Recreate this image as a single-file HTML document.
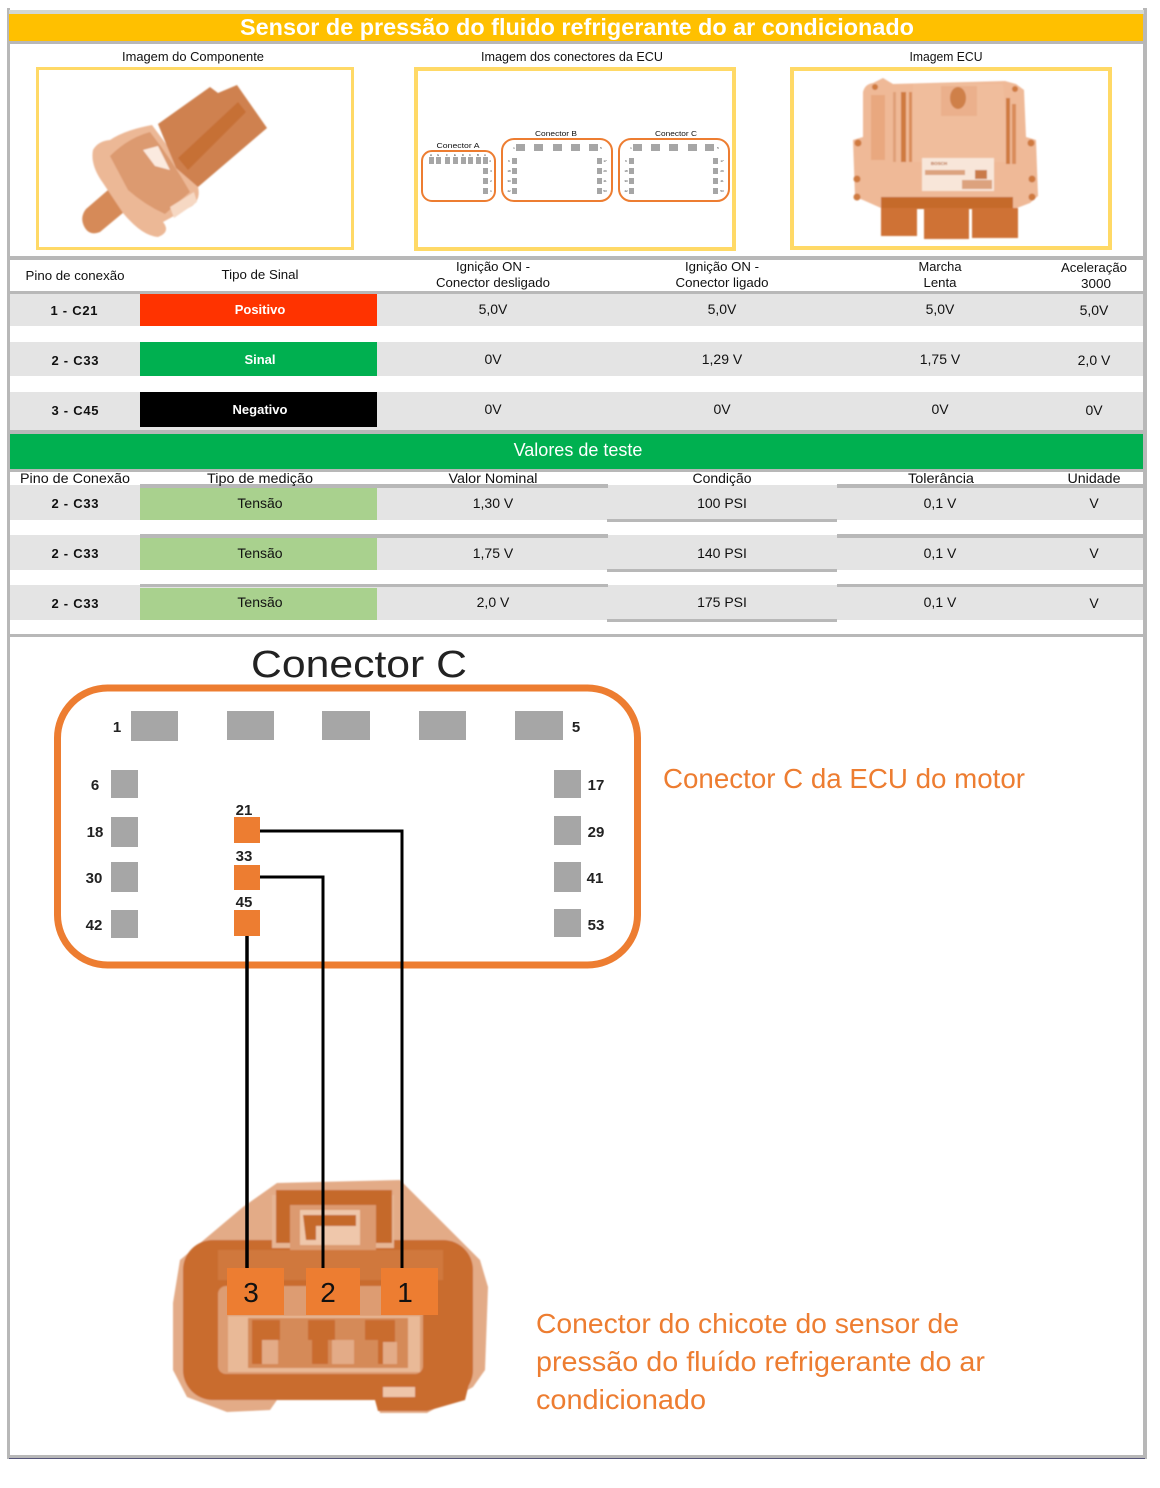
<!DOCTYPE html>
<html lang="pt">
<head>
<meta charset="utf-8">
<title>Sensor de pressão do fluido refrigerante do ar condicionado</title>
<style>
html,body{margin:0;padding:0;background:#fff;width:1160px;height:1488px;overflow:hidden}
svg{display:block}
text{font-family:"Liberation Sans",sans-serif;fill:#111}
.m{text-anchor:middle;font-size:12.5px}
.b{font-weight:bold;font-size:13px;text-anchor:middle}
.h{text-anchor:middle;font-size:14px}
.n{font-weight:bold;font-size:15px;text-anchor:middle;fill:#222}
.o{font-size:28px;fill:#ed7d31}
.t{font-size:3px;text-anchor:middle;fill:#333}
.g{fill:#a6a6a6}
.y{fill:none;stroke:#ffd966}
.pk{fill:none;stroke:#ed7d31;stroke-width:2}
</style>
</head>
<body>
<svg width="1160" height="1488" viewBox="0 0 1160 1488" xmlns="http://www.w3.org/2000/svg">
<defs>
<filter id="s"><feGaussianBlur stdDeviation="0.8"/></filter>
</defs>

<!-- frame -->
<rect x="7" y="8" width="3" height="1451" fill="#b8b8b8"/>
<rect x="1143" y="8" width="4" height="1451" fill="#b8b8b8"/>
<rect x="9" y="10" width="1135" height="4" fill="#d3d8d3"/>
<rect x="9" y="14" width="1134" height="27" fill="#ffc000"/>
<rect x="9" y="41" width="1135" height="3" fill="#b8b8b8"/>
<text x="577" y="35" text-anchor="middle" style="font-size:23px;font-weight:bold;fill:#fff" textLength="674" lengthAdjust="spacingAndGlyphs">Sensor de pressão do fluido refrigerante do ar condicionado</text>

<!-- captions -->
<text class="m" x="193" y="61" textLength="142" lengthAdjust="spacingAndGlyphs">Imagem do Componente</text>
<text class="m" x="572" y="61" textLength="182" lengthAdjust="spacingAndGlyphs">Imagem dos conectores da ECU</text>
<text class="m" x="946" y="61" textLength="73" lengthAdjust="spacingAndGlyphs">Imagem ECU</text>

<rect class="y" x="37.5" y="68.5" width="315" height="180" stroke-width="3"/>
<rect class="y" x="416" y="69" width="318" height="180" stroke-width="4"/>
<rect class="y" x="792" y="69" width="318" height="179" stroke-width="4"/>

<!-- sensor -->
<g filter="url(#s)">
<path d="M108 190L124 212 100 232Q90 236 85 228Q79 218 86 209Z" fill="#d68a58"/>
<path d="M93 150Q98 141 110 140Q125 130 152 125L198 187Q201 199 192 206L163 222Q171 232 158 237Q142 236 123 213L103 183Q90 165 93 150Z" fill="#ecb896"/>
<path d="M110 156Q128 138 150 132Q172 160 190 192L165 214Q145 205 128 190Z" fill="#dc9a70"/>
<path d="M143 150L155 166 170 170 158 146Z" fill="#fbeadf"/>
<path d="M170 207L194 192 197 202 174 218Z" fill="#f6d8c3"/>
<path d="M158 124L210 87 218 93 237 85 267 128 198 187 176 168Z" fill="#cf8150"/>
<path d="M178 158L238 102 246 112 188 170Z" fill="#c66f36"/>
</g>

<!-- thumbnail connectors -->
<rect class="pk" x="422" y="151" width="73" height="50" rx="10"/>
<rect class="pk" x="502" y="139" width="110" height="62" rx="12"/>
<rect class="pk" x="619" y="139" width="110" height="62" rx="12"/>
<text x="458" y="148" text-anchor="middle" style="font-size:7.5px" textLength="43" lengthAdjust="spacingAndGlyphs">Conector A</text>
<text x="556" y="136" text-anchor="middle" style="font-size:7.5px" textLength="42" lengthAdjust="spacingAndGlyphs">Conector B</text>
<text x="676" y="136" text-anchor="middle" style="font-size:7.5px" textLength="42" lengthAdjust="spacingAndGlyphs">Conector C</text>
<g class="g">
<rect x="429" y="157" width="5" height="7"/><rect x="436" y="157" width="5" height="7"/><rect x="445" y="157" width="5" height="7"/><rect x="453" y="157" width="5" height="7"/><rect x="461" y="157" width="5" height="7"/><rect x="468" y="157" width="5" height="7"/><rect x="476" y="157" width="5" height="7"/><rect x="483" y="157" width="5" height="7"/>
<rect x="483" y="168" width="5" height="6"/><rect x="483" y="178" width="5" height="6"/><rect x="483" y="188" width="5" height="6"/>
<rect x="516" y="144" width="9" height="7"/><rect x="534" y="144" width="9" height="7"/><rect x="553" y="144" width="9" height="7"/><rect x="571" y="144" width="9" height="7"/><rect x="589" y="144" width="9" height="7"/>
<rect x="512" y="158" width="5" height="6"/><rect x="512" y="168" width="5" height="6"/><rect x="512" y="178" width="5" height="6"/><rect x="512" y="188" width="5" height="6"/>
<rect x="597" y="158" width="5" height="6"/><rect x="597" y="168" width="5" height="6"/><rect x="597" y="178" width="5" height="6"/><rect x="597" y="188" width="5" height="6"/>
<rect x="633" y="144" width="9" height="7"/><rect x="651" y="144" width="9" height="7"/><rect x="669" y="144" width="9" height="7"/><rect x="688" y="144" width="9" height="7"/><rect x="705" y="144" width="9" height="7"/>
<rect x="629" y="158" width="5" height="6"/><rect x="629" y="168" width="5" height="6"/><rect x="629" y="178" width="5" height="6"/><rect x="629" y="188" width="5" height="6"/>
<rect x="713" y="158" width="5" height="6"/><rect x="713" y="168" width="5" height="6"/><rect x="713" y="178" width="5" height="6"/><rect x="713" y="188" width="5" height="6"/>
</g>
<g>
<text class="t" x="431" y="156">H</text><text class="t" x="438" y="156">G</text><text class="t" x="447" y="156">F</text><text class="t" x="455" y="156">E</text><text class="t" x="463" y="156">D</text><text class="t" x="470" y="156">C</text><text class="t" x="478" y="156">B</text><text class="t" x="485" y="156">A</text>
<text class="t" x="490" y="162">4</text><text class="t" x="491" y="172">3</text><text class="t" x="491" y="182">2</text><text class="t" x="491" y="192">1</text>
<text class="t" x="514" y="149">1</text><text class="t" x="601" y="149">5</text>
<text class="t" x="509" y="162">6</text><text class="t" x="509" y="172">18</text><text class="t" x="509" y="182">30</text><text class="t" x="509" y="192">42</text>
<text class="t" x="605" y="162">17</text><text class="t" x="605" y="172">29</text><text class="t" x="605" y="182">41</text><text class="t" x="605" y="192">53</text>
<text class="t" x="631" y="149">1</text><text class="t" x="718" y="149">5</text>
<text class="t" x="626" y="162">6</text><text class="t" x="626" y="172">18</text><text class="t" x="626" y="182">30</text><text class="t" x="626" y="192">42</text>
<text class="t" x="722" y="162">17</text><text class="t" x="722" y="172">29</text><text class="t" x="722" y="182">41</text><text class="t" x="722" y="192">53</text>
</g>

<!-- ECU -->
<g filter="url(#s)">
<path d="M863 92Q865 84 873 83L883 78 893 84 1005 81 1016 84 1024 90 1026 137 1036 140 1038 196 1030 203 1017 208 881 208 863 200 855 197 853 140 863 137Z" fill="#efb997"/>
<path d="M913 84H1003L1008 148 1010 162H913Z" fill="#f0bd9c"/>
<circle cx="858" cy="143" r="3.5" fill="#cf7a40"/><circle cx="857" cy="179" r="3.5" fill="#cf7a40"/><circle cx="857" cy="197" r="3.5" fill="#cf7a40"/>
<circle cx="1031" cy="143" r="3.5" fill="#cf7a40"/><circle cx="1032" cy="179" r="3.5" fill="#cf7a40"/><circle cx="1032" cy="197" r="3.5" fill="#cf7a40"/>
<circle cx="875" cy="87" r="3" fill="#cf7a40"/><circle cx="1015" cy="89" r="3" fill="#cf7a40"/>
<rect x="871" y="95" width="14" height="65" fill="#e9a87f"/>
<rect x="893" y="92" width="3" height="70" fill="#e0a078"/><rect x="901" y="92" width="5" height="70" fill="#cf7a40"/><rect x="909" y="92" width="3" height="70" fill="#d98c5a"/>
<rect x="1006" y="98" width="4" height="66" fill="#cf7a40"/><rect x="1012" y="104" width="4" height="60" fill="#d98c5a"/>
<rect x="941" y="86" width="36" height="30" fill="#ebb08c"/>
<ellipse cx="958" cy="98" rx="8" ry="11" fill="#cf8048"/>
<rect x="922" y="158" width="72" height="33" fill="#f8e6d9"/>
<rect x="925" y="170" width="40" height="5" fill="#dca27e"/><rect x="962" y="180" width="30" height="9" fill="#dca27e"/>
<rect x="975" y="170" width="12" height="9" fill="#c97a4a"/>
<text x="939" y="165" style="font-size:4.5px;font-weight:bold;fill:#b25a20" text-anchor="middle">BOSCH</text>
<path d="M881 197H1013V209H881Z" fill="#c56a2c"/>
<path d="M881 208H917V236H881ZM924 208H969V239H924ZM972 208H1018V238H972Z" fill="#cf7236"/>
</g>

<!-- table 1 -->
<rect x="10" y="256" width="1134" height="4" fill="#b8b8b8"/>
<rect x="10" y="291" width="1134" height="3" fill="#b8b8b8"/>
<text class="m" x="75" y="280" textLength="99" lengthAdjust="spacingAndGlyphs">Pino de conexão</text>
<text class="m" x="260" y="279" textLength="77" lengthAdjust="spacingAndGlyphs">Tipo de Sinal</text>
<text class="m" x="493" y="271" textLength="74" lengthAdjust="spacingAndGlyphs">Ignição ON -</text>
<text class="m" x="493" y="287" textLength="114" lengthAdjust="spacingAndGlyphs">Conector desligado</text>
<text class="m" x="722" y="271" textLength="74" lengthAdjust="spacingAndGlyphs">Ignição ON -</text>
<text class="m" x="722" y="287" textLength="93" lengthAdjust="spacingAndGlyphs">Conector ligado</text>
<text class="m" x="940" y="271" textLength="43" lengthAdjust="spacingAndGlyphs">Marcha</text>
<text class="m" x="940" y="287" textLength="33" lengthAdjust="spacingAndGlyphs">Lenta</text>
<text class="m" x="1094" y="272" textLength="66" lengthAdjust="spacingAndGlyphs">Aceleração</text>
<text class="m" x="1096" y="288" textLength="30" lengthAdjust="spacingAndGlyphs">3000</text>

<rect x="10" y="294" width="1133" height="32" fill="#e4e4e4"/>
<rect x="10" y="342" width="1133" height="34" fill="#e4e4e4"/>
<rect x="10" y="392" width="1133" height="38" fill="#e4e4e4"/>
<rect x="140" y="294" width="237" height="32" fill="#ff3300"/>
<rect x="140" y="342" width="237" height="34" fill="#00b050"/>
<rect x="140" y="392" width="237" height="35" fill="#000"/>

<text class="b" x="74" y="315" textLength="47" lengthAdjust="spacing">1 - C21</text>
<text class="b" x="260" y="314" style="fill:#fff">Positivo</text>
<text class="h" x="493" y="314">5,0V</text><text class="h" x="722" y="314">5,0V</text><text class="h" x="940" y="314">5,0V</text><text class="h" x="1094" y="315">5,0V</text>
<text class="b" x="75" y="365" textLength="47" lengthAdjust="spacing">2 - C33</text>
<text class="b" x="260" y="364" style="fill:#fff">Sinal</text>
<text class="h" x="493" y="364">0V</text><text class="h" x="722" y="364">1,29 V</text><text class="h" x="940" y="364">1,75 V</text><text class="h" x="1094" y="365">2,0 V</text>
<text class="b" x="75" y="415" textLength="47" lengthAdjust="spacing">3 - C45</text>
<text class="b" x="260" y="414" style="fill:#fff">Negativo</text>
<text class="h" x="493" y="414">0V</text><text class="h" x="722" y="414">0V</text><text class="h" x="940" y="414">0V</text><text class="h" x="1094" y="415">0V</text>

<rect x="10" y="430" width="1134" height="4" fill="#b8b8b8"/>
<rect x="10" y="434" width="1133" height="35" fill="#00b050"/>
<rect x="10" y="469" width="1134" height="3" fill="#b8b8b8"/>
<text x="578" y="456" text-anchor="middle" style="font-size:18px;fill:#fff">Valores de teste</text>

<!-- table 2 -->
<rect x="10" y="485" width="1133" height="35" fill="#e4e4e4"/>
<rect x="10" y="535" width="1133" height="35" fill="#e4e4e4"/>
<rect x="10" y="585" width="1133" height="35" fill="#e4e4e4"/>
<rect x="140" y="484" width="468" height="4" fill="#b8b8b8"/><rect x="837" y="484" width="307" height="4" fill="#b8b8b8"/>
<rect x="140" y="534" width="468" height="4" fill="#b8b8b8"/><rect x="837" y="534" width="307" height="4" fill="#b8b8b8"/>
<rect x="140" y="584" width="468" height="3" fill="#b8b8b8"/><rect x="837" y="584" width="307" height="3" fill="#b8b8b8"/>
<rect x="607" y="519" width="230" height="3" fill="#b8b8b8"/>
<rect x="607" y="569" width="230" height="3" fill="#b8b8b8"/>
<rect x="607" y="619" width="230" height="3" fill="#b8b8b8"/>
<rect x="140" y="488" width="237" height="32" fill="#a9d18e"/>
<rect x="140" y="538" width="237" height="32" fill="#a9d18e"/>
<rect x="140" y="588" width="237" height="32" fill="#a9d18e"/>

<text class="h" x="75" y="483" textLength="110" lengthAdjust="spacingAndGlyphs">Pino de Conexão</text>
<text class="h" x="260" y="483" textLength="106" lengthAdjust="spacingAndGlyphs">Tipo de medição</text>
<text class="h" x="493" y="483" textLength="89" lengthAdjust="spacingAndGlyphs">Valor Nominal</text>
<text class="h" x="722" y="483" textLength="59" lengthAdjust="spacingAndGlyphs">Condição</text>
<text class="h" x="941" y="483" textLength="66" lengthAdjust="spacingAndGlyphs">Tolerância</text>
<text class="h" x="1094" y="483" textLength="53" lengthAdjust="spacingAndGlyphs">Unidade</text>

<text class="b" x="75" y="508" textLength="47" lengthAdjust="spacing">2 - C33</text><text class="h" x="260" y="508">Tensão</text><text class="h" x="493" y="508">1,30 V</text><text class="h" x="722" y="508">100 PSI</text><text class="h" x="940" y="508">0,1 V</text><text class="h" x="1094" y="508">V</text>
<text class="b" x="75" y="558" textLength="47" lengthAdjust="spacing">2 - C33</text><text class="h" x="260" y="558">Tensão</text><text class="h" x="493" y="558">1,75 V</text><text class="h" x="722" y="558">140 PSI</text><text class="h" x="940" y="558">0,1 V</text><text class="h" x="1094" y="558">V</text>
<text class="b" x="75" y="608" textLength="47" lengthAdjust="spacing">2 - C33</text><text class="h" x="260" y="607">Tensão</text><text class="h" x="493" y="607">2,0 V</text><text class="h" x="722" y="607">175 PSI</text><text class="h" x="940" y="607">0,1 V</text><text class="h" x="1094" y="608">V</text>

<rect x="10" y="634" width="1134" height="3" fill="#b8b8b8"/>

<!-- connector C -->
<text x="359" y="677" text-anchor="middle" style="font-size:38px;fill:#222" textLength="216" lengthAdjust="spacingAndGlyphs">Conector C</text>
<rect x="57.5" y="688" width="580" height="277" rx="50" fill="none" stroke="#ed7d31" stroke-width="7"/>

<g class="g">
<rect x="131" y="711" width="47" height="30"/><rect x="227" y="711" width="47" height="29"/><rect x="322" y="711" width="48" height="29"/><rect x="419" y="711" width="47" height="29"/><rect x="515" y="711" width="48" height="29"/>
<rect x="111" y="770" width="27" height="28"/><rect x="111" y="817" width="27" height="30"/><rect x="111" y="862" width="27" height="30"/><rect x="111" y="910" width="27" height="28"/>
<rect x="554" y="770" width="27" height="28"/><rect x="554" y="816" width="27" height="29"/><rect x="554" y="862" width="27" height="30"/><rect x="554" y="909" width="27" height="28"/>
</g>
<rect x="234" y="817" width="26" height="26" fill="#ed7d31"/>
<rect x="234" y="865" width="26" height="25" fill="#ed7d31"/>
<rect x="234" y="910" width="26" height="26" fill="#ed7d31"/>

<text class="n" x="117" y="732">1</text><text class="n" x="576" y="732">5</text>
<text class="n" x="95" y="790">6</text><text class="n" x="95" y="837">18</text><text class="n" x="94" y="883">30</text><text class="n" x="94" y="930">42</text>
<text class="n" x="596" y="790">17</text><text class="n" x="596" y="837">29</text><text class="n" x="595" y="883">41</text><text class="n" x="596" y="930">53</text>
<text class="n" x="244" y="815">21</text><text class="n" x="244" y="861">33</text><text class="n" x="244" y="907">45</text>

<text class="o" x="663" y="788" textLength="362" lengthAdjust="spacingAndGlyphs">Conector C da ECU do motor</text>
<text class="o" x="536" y="1333" textLength="423" lengthAdjust="spacingAndGlyphs">Conector do chicote do sensor de</text>
<text class="o" x="536" y="1371" textLength="449" lengthAdjust="spacingAndGlyphs">pressão do fluído refrigerante do ar</text>
<text class="o" x="536" y="1409" textLength="170" lengthAdjust="spacingAndGlyphs">condicionado</text>

<!-- harness connector -->
<g filter="url(#s)">
<path d="M277 1183L400 1180 413 1193 480 1260 488 1287 485 1370 473 1387 427 1413 380 1413 377 1400 277 1400 270 1410 227 1412 187 1397 173 1370 173 1303 180 1260 243 1207Z" fill="#e3ab87"/>
<rect x="183" y="1240" width="290" height="160" rx="30" fill="#c96c2e"/>
<path d="M375 1400H430L470 1380 465 1400 427 1411H378Z" fill="#c96c2e"/>
<path d="M272 1195H394V1248H272Z" fill="#e6b594"/>
<path d="M276 1190H392V1243H376V1205H290V1243H276Z" fill="#c5692b"/>
<path d="M290 1205H376V1250H290Z" fill="#dc9a70"/>
<path d="M300 1210H360V1245H300Z" fill="#efc7ab"/>
<path d="M303 1215H356V1226H316V1240H306Z" fill="#c5692b"/>
<rect x="218" y="1250" width="225" height="30" fill="#d0783c"/>
<rect x="218" y="1286" width="205" height="88" rx="8" fill="#dd9c72"/>
<rect x="228" y="1316" width="192" height="56" fill="#e9b997"/>
<rect x="248" y="1318" width="160" height="50" fill="#d58a58"/>
<path d="M252 1320H280V1340H268V1364H252ZM308 1320H335V1340H328V1364H312V1340H308ZM365 1320H395V1364H378V1340H365Z" fill="#c96c2e"/>
<rect x="262" y="1340" width="16" height="24" fill="#e3ab87"/><rect x="332" y="1340" width="22" height="24" fill="#e3ab87"/><rect x="383" y="1342" width="14" height="22" fill="#e3ab87"/>
<rect x="383" y="1387" width="32" height="10" fill="#eec5aa"/>
</g>

<!-- wires -->
<path d="M260 831H402V1268" fill="none" stroke="#000" stroke-width="3"/>
<path d="M260 877H323V1268" fill="none" stroke="#000" stroke-width="3"/>
<path d="M247 936V1268" fill="none" stroke="#000" stroke-width="3.5"/>

<rect x="227" y="1268" width="57" height="47" fill="#ed7d31"/>
<rect x="306" y="1268" width="54" height="47" fill="#ed7d31"/>
<rect x="381" y="1268" width="57" height="47" fill="#ed7d31"/>
<text x="251" y="1302" text-anchor="middle" style="font-size:28px">3</text>
<text x="328" y="1302" text-anchor="middle" style="font-size:28px">2</text>
<text x="405" y="1302" text-anchor="middle" style="font-size:28px">1</text>

<!-- bottom -->
<rect x="9" y="1455" width="1136" height="3" fill="#b8b8b8"/>
<rect x="9" y="1458" width="1136" height="1" fill="#55557a"/>
</svg>
</body>
</html>
